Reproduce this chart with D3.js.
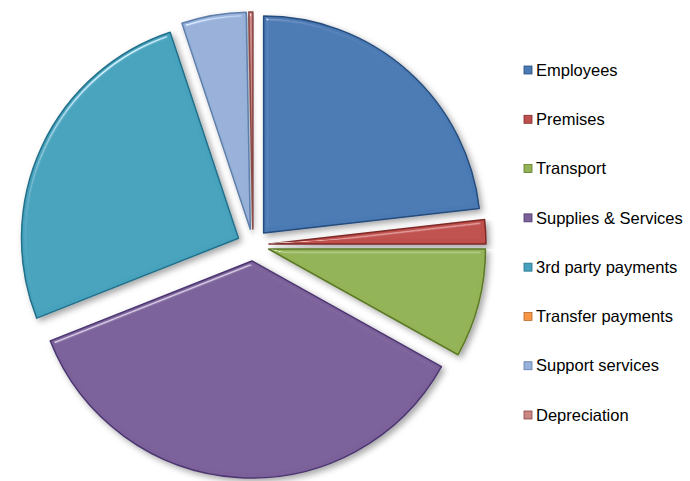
<!DOCTYPE html>
<html>
<head>
<meta charset="utf-8">
<script src="https://cdn.jsdelivr.net/npm/d3@7/dist/d3.min.js"></script>
<style>
  html, body { margin: 0; padding: 0; background: #fff; }
  svg { display: block; }
</style>
</head>
<body>
<svg id="chart" width="690" height="481"></svg>
<script>
// Expenditure breakdown (percent of total)
const categories = ["Employees", "Premises", "Transport", "Supplies & Services",
  "3rd party payments", "Transfer payments", "Support services", "Depreciation"];
const values = [23.2, 1.8, 8.1, 35.9, 25.9, 0, 4.8, 0.3];
const colors = ["#4a7ab4", "#bf4f4c", "#93b356", "#7b619a",
  "#47a3bd", "#f79646", "#98b1d9", "#c98684"];
const strokes = ["#264c7c", "#7e2a28", "#5c7a27", "#4c3670",
  "#21708a", "#b86a26", "#5f7fac", "#8a4644"];

const svg = d3.select("#chart");
const cx = 253, cy = 245, radius = 217, explode = 16;

// Bevelled edge with a soft drop shadow
const defs = svg.append("defs");
const f = defs.append("filter").attr("id", "bevel")
  .attr("x", "-10%").attr("y", "-10%").attr("width", "130%").attr("height", "130%");
f.append("feGaussianBlur").attr("in", "SourceAlpha").attr("stdDeviation", 2.2).attr("result", "blur");
const spec = f.append("feSpecularLighting").attr("in", "blur")
  .attr("surfaceScale", 5).attr("specularConstant", 1).attr("specularExponent", 45)
  .attr("lighting-color", "#ffffff").attr("result", "spec");
spec.append("feDistantLight").attr("azimuth", 235).attr("elevation", 40);
f.append("feComposite").attr("in", "spec").attr("in2", "SourceAlpha").attr("operator", "in").attr("result", "specIn");
f.append("feComposite").attr("in", "SourceGraphic").attr("in2", "specIn")
  .attr("operator", "arithmetic").attr("k1", 0).attr("k2", 1).attr("k3", 0.6).attr("k4", 0)
  .attr("result", "lit");
f.append("feGaussianBlur").attr("in", "SourceAlpha").attr("stdDeviation", 3).attr("result", "sblur");
f.append("feOffset").attr("in", "sblur").attr("dx", 3).attr("dy", 3).attr("result", "soff");
f.append("feFlood").attr("flood-color", "#000").attr("flood-opacity", 0.35).attr("result", "sc");
f.append("feComposite").attr("in", "sc").attr("in2", "soff").attr("operator", "in").attr("result", "shadow");
const merge = f.append("feMerge");
merge.append("feMergeNode").attr("in", "shadow");
merge.append("feMergeNode").attr("in", "lit");

const pie = d3.pie().sort(null).value(d => d)(values);
const arc = d3.arc().innerRadius(0).outerRadius(radius);

const g = svg.append("g").attr("transform", `translate(${cx},${cy})`);
g.selectAll("path.slice")
  .data(pie.filter(d => d.value > 0))
  .join("path")
  .attr("class", "slice")
  .attr("transform", d => {
    const a = (d.startAngle + d.endAngle) / 2;
    return `translate(${explode * Math.sin(a)},${-explode * Math.cos(a)})`;
  })
  .attr("d", arc)
  .attr("fill", d => colors[d.index])
  .attr("stroke", d => strokes[d.index])
  .attr("stroke-width", 1.5)
  .attr("stroke-linejoin", "round")
  .attr("filter", "url(#bevel)");

// Legend
const legendY = d3.scalePoint().domain(categories).range([70, 415]);
const lg = svg.append("g").selectAll("g").data(categories).join("g")
  .attr("transform", d => `translate(524,${legendY(d)})`);
lg.append("rect")
  .attr("x", 0).attr("y", -4).attr("width", 8).attr("height", 8)
  .attr("fill", (d, i) => colors[i])
  .attr("stroke", (d, i) => strokes[i]).attr("stroke-width", 0.8);
lg.append("text")
  .attr("x", 12).attr("y", 0).attr("dy", "0.35em")
  .attr("font-family", "Liberation Sans, Arial, sans-serif")
  .attr("font-size", 16.5).attr("fill", "#000")
  .text(d => d);
</script>
</body>
</html>
